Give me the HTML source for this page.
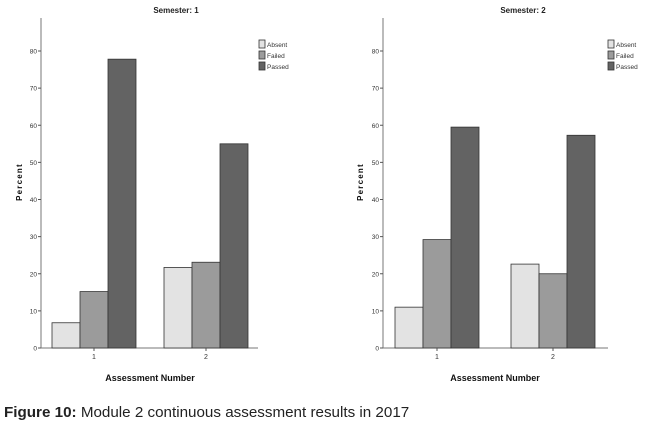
<!DOCTYPE html>
<html><head><meta charset="utf-8"><style>
body{margin:0;background:#fff;width:651px;height:430px;overflow:hidden;font-family:"Liberation Sans",sans-serif}
svg text{font-family:"Liberation Sans",sans-serif}
</style></head><body>
<svg id="c" width="651" height="430"></svg>
<script>
const categories=["1","2"];
const series=["Absent","Failed","Passed"];
const sem1Values=[[6.8,15.2,77.8],[21.7,23.1,55.0]];
const sem2Values=[[11.0,29.2,59.5],[22.6,20.0,57.3]];
const yTicks=[0,10,20,30,40,50,60,70,80];
const titles=["Semester: 1","Semester: 2"];
const colors=["#e3e3e3","#9b9b9b","#636363"];
const NS="http://www.w3.org/2000/svg";
const svg=document.getElementById('c');
function mk(tag,attrs,parent,text){const e=document.createElementNS(NS,tag);for(const k in attrs)e.setAttribute(k,attrs[k]);if(text!==undefined)e.textContent=text;(parent||svg).appendChild(e);return e;}
const panels=[{ax:41,xend:258,centers:[94,206],legX:259,titleX:176,percX:22,axTitleX:150,data:sem1Values},
{ax:383,xend:608,centers:[437,553],legX:608,titleX:523,percX:363,axTitleX:495,data:sem2Values}];
const y0=348,ypx=(348-51)/80,bw=28;
function yScale(v){return y0-v*ypx;}
panels.forEach((p,pi)=>{
 const g=mk('g',{});
 
 
 const t=mk('text',{x:p.titleX,y:13,'text-anchor':'middle','font-size':8,'font-weight':'bold',fill:'#222'},g,titles[pi]);
 
 const ya=mk('line',{x1:p.ax,y1:18,x2:p.ax,y2:y0,stroke:'#777','stroke-width':1},g);
 
 const xa=mk('line',{x1:p.ax,y1:y0,x2:p.xend,y2:y0,stroke:'#777','stroke-width':1},g);
 
 yTicks.forEach(v=>{
  mk('line',{x1:p.ax-3,y1:yScale(v),x2:p.ax,y2:yScale(v),stroke:'#555'},g);
  const tl=mk('text',{x:p.ax-4,y:yScale(v)+2.5,'text-anchor':'end','font-size':6.5,fill:'#333'},g,String(v));
  
 });
 p.data.forEach((vals,ci)=>{
  const cx=p.centers[ci];
  vals.forEach((v,si)=>{
   const x=cx-1.5*bw+si*bw;
   const r=mk('rect',{x:x,y:yScale(v),width:bw,height:y0-yScale(v),fill:colors[si],stroke:'#333','stroke-width':0.8},g);
   
   
  });
  mk('line',{x1:cx,y1:y0,x2:cx,y2:y0+3,stroke:'#555'},g);
  const xl=mk('text',{x:cx,y:y0+11,'text-anchor':'middle','font-size':7,fill:'#333'},g,categories[ci]);
  
 });
 const pl=mk('text',{x:p.percX,y:182,'text-anchor':'middle','font-size':8,'font-weight':'bold','letter-spacing':1.2,fill:'#111',transform:'rotate(-90 '+p.percX+' 182)'},g,'Percent');
 
 const at=mk('text',{x:p.axTitleX,y:381,'text-anchor':'middle','font-size':9,'font-weight':'bold',fill:'#111'},g,'Assessment Number');
 
 series.forEach((s,si)=>{
  const ly=40+si*11;
  const le=mk('g',{},g);
  
  mk('rect',{x:p.legX,y:ly,width:6,height:8,fill:colors[si],stroke:'#333','stroke-width':0.8},le);
  mk('text',{x:p.legX+8,y:ly+7,'font-size':6.5,fill:'#333'},le,s);
 });
});
</script>
<div style="position:absolute;left:4px;top:404px;font-size:15.2px;color:#222"><b>Figure 10:</b> Module 2 continuous assessment results in 2017</div>
</body></html>
